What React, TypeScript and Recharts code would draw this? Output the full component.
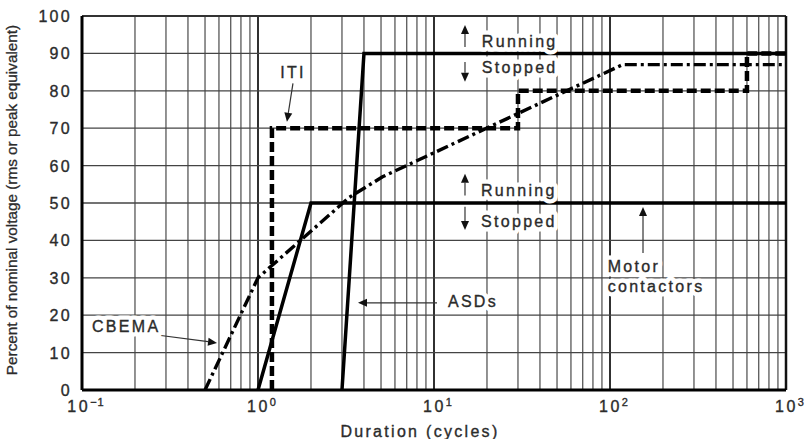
import React from 'react';
import { LineChart, Line, XAxis, YAxis, ReferenceLine, ReferenceDot } from 'recharts';

// ---- data ----
const xTicks = [0.1, 1, 10, 100, 1000];
const yTicks = [0, 10, 20, 30, 40, 50, 60, 70, 80, 90, 100];
const xGridMinor = [0.2, 0.3, 0.4, 0.5, 0.6, 0.7, 0.8, 0.9, 2, 3, 4, 5, 6, 7, 8, 9, 20, 30, 40, 50, 60, 70, 80, 90, 200, 300, 400, 500, 600, 700, 800, 900];
const xGridMajor = [1, 10, 100];
const yGrid = [10, 20, 30, 40, 50, 60, 70, 80, 90];

const motorX = [1, 2, 1000];
const motorY = [0, 50, 50];
const asdX = [3, 4, 1000];
const asdY = [0, 90, 90];
const itiX = [1.2, 1.2, 30, 30, 600, 600, 1000];
const itiY = [0, 70, 70, 80, 80, 90, 90];
const cbemaX = [0.5, 1.0, 3.3, 5.1, 118, 1000];
const cbemaY = [0, 30, 51.5, 57, 87, 87];

const labelTexts = ['Running', 'Stopped', 'Running', 'Stopped', 'ITI', 'CBEMA', 'ASDs', 'Motor', 'contactors'];
const labelX = [18.7, 18.7, 18.5, 18.5, 1.58, 0.114, 12.0, 97, 97];
const labelY = [91.7, 84.8, 51.9, 43.6, 83.4, 15.5, 22.2, 31.6, 26.2];
const labelAnchor = ['start', 'start', 'start', 'start', 'middle', 'start', 'start', 'start', 'start'];

const arrowFromX = [15, 15, 15, 15, 1.58, 0.267, 10.4, 154];
const arrowFromY = [91.7, 87.7, 52, 49, 82, 14.7, 23.3, 36.6];
const arrowToX = [15, 15, 15, 15, 1.46, 0.585, 3.7, 154];
const arrowToY = [97.6, 82.4, 57.8, 42.8, 71.7, 12.6, 23.3, 48.9];

const toPts = (xs: number[], ys: number[]) => xs.map((x, i) => ({ x, y: ys[i] }));
const motor = toPts(motorX, motorY);
const asd = toPts(asdX, asdY);
const iti = toPts(itiX, itiY);
const cbema = toPts(cbemaX, cbemaY);

const FONT = '"Liberation Sans", Arial, Helvetica, sans-serif';
const TXT = '#2b2b2b';

const XTick = (props: any) => {
  const { x, y, payload } = props;
  const e = Math.round(Math.log10(payload.value));
  const exp = e < 0 ? '\u2212' + Math.abs(e) : String(e);
  return (
    <text x={x + 4} y={y + 14} textAnchor="middle" fontFamily={FONT} fontSize={16} fill={TXT} stroke={TXT} strokeWidth={0.35} letterSpacing={2.5}>
      <tspan>10</tspan>
      <tspan dy={-6} fontSize={11} letterSpacing={1}>{exp}</tspan>
    </text>
  );
};

const YTick = (props: any) => {
  const { x, y, payload } = props;
  return (
    <text x={x - 2} y={y + 6} textAnchor="end" fontFamily={FONT} fontSize={16} fill={TXT} stroke={TXT} strokeWidth={0.35} letterSpacing={2.3}>
      {payload.value}
    </text>
  );
};

const ArrowShape = (props: any) => {
  const { x1, y1, x2, y2 } = props;
  if ([x1, y1, x2, y2].some((v) => v == null || isNaN(v))) return null;
  const ang = Math.atan2(y2 - y1, x2 - x1);
  const L = 9, W = 4;
  const bx = x2 - L * Math.cos(ang), by = y2 - L * Math.sin(ang);
  const px = -Math.sin(ang) * W, py = Math.cos(ang) * W;
  return (
    <g>
      <line x1={x1} y1={y1} x2={bx} y2={by} stroke="#333" strokeWidth={1.2} />
      <polygon points={`${x2},${y2} ${bx + px},${by + py} ${bx - px},${by - py}`} fill="#111" />
    </g>
  );
};

const makeLabel = (text: string, anchor: string) => (props: any) => {
  const { cx, cy } = props;
  if (cx == null || cy == null) return null;
  return (
    <g>
      <text x={cx} y={cy} textAnchor={anchor as any} fontFamily={FONT} fontSize={16} fill="#fff" letterSpacing={2.3}
        stroke="#fff" strokeWidth={9} strokeLinejoin="round">
        {text}
      </text>
      <text x={cx} y={cy} textAnchor={anchor as any} fontFamily={FONT} fontSize={16} fill={TXT} letterSpacing={2.3}
        stroke={TXT} strokeWidth={0.35}>
        {text}
      </text>
    </g>
  );
};

export default function App() {
  return (
    <div style={{ position: 'absolute', left: 0, top: 0, width: 811, height: 439, background: '#fff' }}>
      <LineChart width={811} height={439} margin={{ top: 16, right: 25, bottom: 0, left: 0 }}>
        <XAxis
          dataKey="x"
          type="number"
          scale="log"
          domain={[0.1, 1000]}
          ticks={xTicks}
          allowDataOverflow
          tick={<XTick />}
          tickLine={false}
          axisLine={{ stroke: '#000', strokeWidth: 3 }}
          height={49}
          label={{ value: 'Duration (cycles)', position: 'insideBottom', offset: 2, fontFamily: FONT, fontSize: 16, fill: TXT, stroke: TXT, strokeWidth: 0.35, letterSpacing: 2.3, dx: -14 }}
        />
        <YAxis
          type="number"
          domain={[0, 100]}
          ticks={yTicks}
          tick={<YTick />}
          tickLine={false}
          axisLine={{ stroke: '#000', strokeWidth: 3 }}
          width={82}
          label={{ value: 'Percent of nominal voltage (rms or peak equivalent)', angle: -90, position: 'insideLeft', offset: 12, dy: -3, fontFamily: FONT, fontSize: 15.3, fill: TXT, stroke: TXT, strokeWidth: 0.3, style: { textAnchor: 'middle' } }}
        />
        {xGridMinor.map((v) => (
          <ReferenceLine key={'gx' + v} x={v} stroke="#4a4a4a" strokeWidth={1.2} />
        ))}
        {xGridMajor.map((v) => (
          <ReferenceLine key={'gX' + v} x={v} stroke="#1a1a1a" strokeWidth={1.8} />
        ))}
        {yGrid.map((v) => (
          <ReferenceLine key={'gy' + v} y={v} stroke="#444" strokeWidth={1.3} />
        ))}
        <ReferenceLine y={100} stroke="#333" strokeWidth={2} />
        <ReferenceLine x={1000} stroke="#111" strokeWidth={2.5} />
        {labelTexts.map((t, i) => (
          <ReferenceDot key={'lab' + i} x={labelX[i]} y={labelY[i]} r={0} shape={makeLabel(t, labelAnchor[i])} />
        ))}
        {arrowFromX.map((_, i) => (
          <ReferenceLine
            key={'ar' + i}
            segment={[{ x: arrowFromX[i], y: arrowFromY[i] }, { x: arrowToX[i], y: arrowToY[i] }]}
            shape={<ArrowShape />}
          />
        ))}
        <Line data={motor} dataKey="y" stroke="#000" strokeWidth={3.5} dot={false} isAnimationActive={false} strokeLinejoin="miter" />
        <Line data={asd} dataKey="y" stroke="#000" strokeWidth={3.5} dot={false} isAnimationActive={false} strokeLinejoin="miter" />
        <Line data={iti} dataKey="y" stroke="#000" strokeWidth={4.5} strokeDasharray="10 4" dot={false} isAnimationActive={false} strokeLinejoin="miter" />
        <Line data={cbema} dataKey="y" stroke="#000" strokeWidth={3.4} strokeDasharray="12 4 3 4" dot={false} isAnimationActive={false} />
      </LineChart>
    </div>
  );
}
